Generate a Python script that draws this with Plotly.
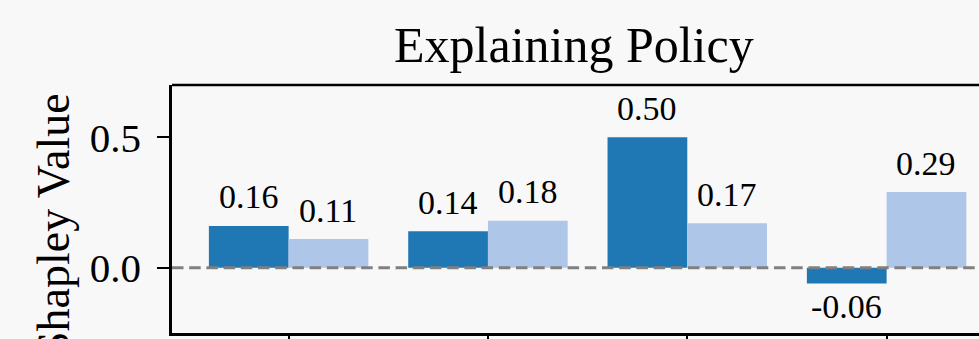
import plotly.graph_objects as go

categories = ["Feature 1", "Feature 2", "Feature 3", "Feature 4"]
series_a_name = "Model A"
series_b_name = "Model B"
series_a = [0.16, 0.14, 0.50, -0.06]
series_b = [0.11, 0.18, 0.17, 0.29]
y_tick_vals = [0.0, 0.5]
y_tick_text = ["0.0", "0.5"]
title_text = "Explaining Policy"
y_title = "Shapley Value"

W, H = 979, 339
ML, MR, MT, MB = 172, 0, 85, 6
FONT = "Liberation Serif"
BG = "#f8f8f8"
C_A = "#1f77b4"
C_B = "#aec7e8"
LW = 2.6

fig = go.Figure()
fig.add_trace(go.Bar(x=categories, y=series_a, name=series_a_name, marker_color=C_A,
                     marker_line_width=0))
fig.add_trace(go.Bar(x=categories, y=series_b, name=series_b_name, marker_color=C_B,
                     marker_line_width=0))

annotations = []
for i, (a, b) in enumerate(zip(series_a, series_b)):
    for off, v in ((-0.2, a), (0.2, b)):
        annotations.append(dict(
            x=i + off, y=v, xref="x", yref="y", text=f"{v:.2f}",
            showarrow=False, font=dict(family=FONT, size=34, color="black"),
            xanchor="center", yanchor="middle",
            yshift=29 if v >= 0 else -23,
        ))

plot_h = H - MT - MB
annotations.append(dict(
    x=(573.5 - ML) / (W - ML - MR), y=(H - MB - 45) / plot_h, xref="paper", yref="paper",
    text=title_text, showarrow=False, font=dict(family=FONT, size=50, color="black"),
    xanchor="center", yanchor="middle"))
annotations.append(dict(
    x=(53 - ML) / (W - ML - MR), y=(H - MB - 91) / plot_h, xref="paper", yref="paper",
    text=y_title, showarrow=False, textangle=-90,
    font=dict(family=FONT, size=46, color="black"),
    xanchor="center", yanchor="top"))

fig.update_layout(
    width=W, height=H,
    margin=dict(l=ML, r=MR, t=MT, b=MB, pad=0),
    paper_bgcolor=BG, plot_bgcolor=BG,
    barmode="group", bargap=0.2, bargroupgap=0,
    showlegend=False,
    annotations=annotations,
    shapes=[
        dict(type="line", xref="paper", yref="y", x0=0, x1=1, y0=0, y1=0,
             line=dict(color="#808080", width=2.8, dash="11.5px,5.7px"), layer="above"),
        dict(type="line", xref="paper", yref="paper", x0=0, x1=1, y0=1, y1=1,
             line=dict(color="black", width=LW), layer="above"),
    ],
)
fig.update_xaxes(
    type="category", categoryorder="array", categoryarray=categories,
    range=[-0.585, 3.4635], showgrid=False, zeroline=False,
    showline=True, linecolor="black", linewidth=LW,
    ticks="outside", ticklen=12, tickwidth=2.4, tickcolor="black",
    showticklabels=False, automargin=False,
)
fig.update_yaxes(
    range=[-0.25, 0.70], showgrid=False, zeroline=False,
    showline=True, linecolor="black", linewidth=LW,
    ticks="outside", ticklen=12, tickwidth=2.4, tickcolor="black",
    tickvals=y_tick_vals, ticktext=y_tick_text,
    tickfont=dict(family=FONT, size=41, color="black"),
    ticklabelstandoff=8, automargin=False,
)

fig.write_html("out.html")
